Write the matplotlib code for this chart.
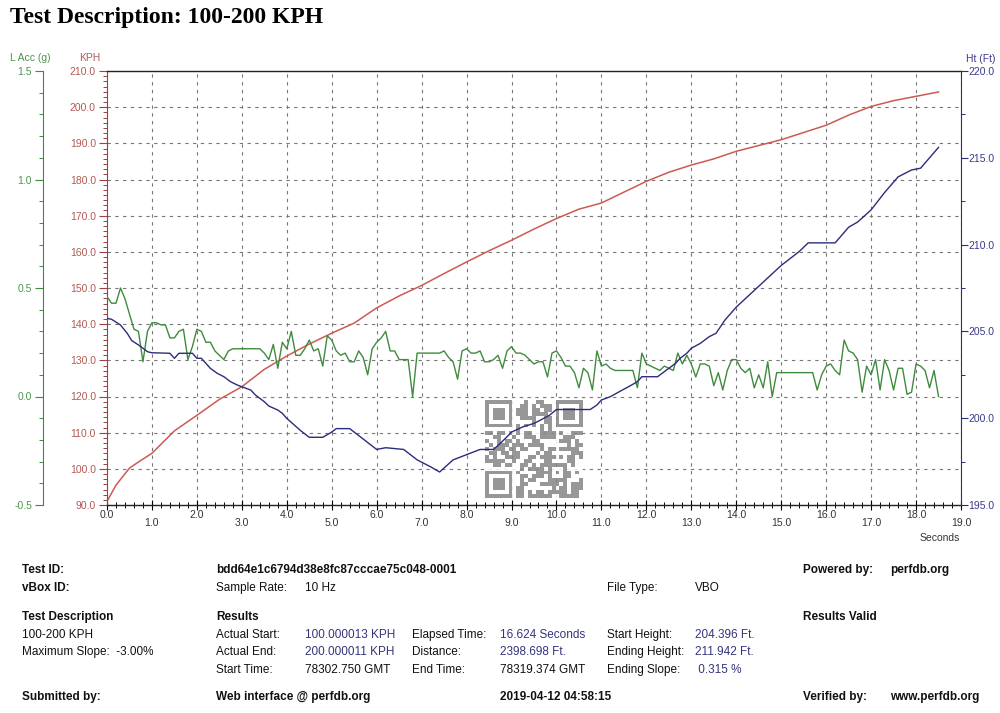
import numpy as np
import matplotlib.pyplot as plt
from matplotlib.ticker import MultipleLocator, AutoMinorLocator, FormatStrFormatter

plt.rcParams['font.family'] = ['Liberation Sans', 'DejaVu Sans']

# lateral acceleration (g), 10 Hz samples from 0.0 s
acc_g = [0.46, 0.43, 0.43, 0.50, 0.45, 0.38, 0.31, 0.30, 0.16, 0.30,
         0.34, 0.34, 0.33, 0.33, 0.27, 0.27, 0.30, 0.31, 0.17, 0.23,
         0.31, 0.30, 0.25, 0.25, 0.21, 0.19, 0.17, 0.21, 0.22, 0.22,
         0.22, 0.22, 0.22, 0.22, 0.22, 0.20, 0.17, 0.24, 0.13, 0.25,
         0.22, 0.30, 0.19, 0.19, 0.22, 0.26, 0.21, 0.22, 0.14, 0.28,
         0.26, 0.21, 0.19, 0.20, 0.16, 0.16, 0.21, 0.18, 0.10, 0.22,
         0.25, 0.27, 0.30, 0.21, 0.21, 0.17, 0.17, 0.17, 0.00, 0.20,
         0.20, 0.20, 0.20, 0.20, 0.20, 0.21, 0.18, 0.16, 0.08, 0.21,
         0.22, 0.20, 0.20, 0.21, 0.16, 0.16, 0.17, 0.19, 0.13, 0.21,
         0.23, 0.20, 0.20, 0.19, 0.17, 0.15, 0.16, 0.16, 0.09, 0.20,
         0.21, 0.18, 0.14, 0.14, 0.11, 0.04, 0.13, 0.11, 0.03, 0.21,
         0.14, 0.15, 0.13, 0.12, 0.12, 0.12, 0.12, 0.12, 0.04, 0.20,
         0.15, 0.14, 0.13, 0.12, 0.14, 0.13, 0.12, 0.20, 0.15, 0.19,
         0.15, 0.09, 0.15, 0.15, 0.14, 0.05, 0.11, 0.03, 0.12, 0.17,
         0.17, 0.13, 0.11, 0.13, 0.04, 0.10, 0.04, 0.16, 0.00, 0.11,
         0.11, 0.11, 0.11, 0.11, 0.11, 0.11, 0.11, 0.11, 0.03, 0.10,
         0.14, 0.15, 0.12, 0.10, 0.26, 0.21, 0.20, 0.17, 0.02, 0.14,
         0.10, 0.17, 0.03, 0.17, 0.12, 0.03, 0.13, 0.13, 0.01, 0.02,
         0.15, 0.14, 0.12, 0.04, 0.12, 0.00]
acc_t = np.arange(len(acc_g)) * 0.1

# speed (KPH)
kph_t = [0.0, 0.2, 0.5, 0.75, 1.0, 1.5, 2.0, 2.5, 3.0, 3.5, 4.0, 4.5, 5.0,
         5.5, 6.0, 6.5, 7.0, 7.5, 8.0, 8.5, 9.0, 9.5, 10.0, 10.5, 11.0,
         11.5, 12.0, 12.5, 13.0, 13.5, 14.0, 14.5, 15.0, 15.5, 16.0, 16.5,
         17.0, 17.5, 18.0, 18.5]
kph = [91.0, 95.5, 100.2, 102.3, 104.3, 110.5, 114.8, 119.2, 122.7, 127.5,
       131.2, 134.5, 137.5, 140.3, 144.5, 147.8, 150.7, 154.0, 157.2, 160.3,
       163.2, 166.3, 169.2, 171.8, 173.5, 176.5, 179.5, 182.0, 184.0, 185.7,
       187.8, 189.4, 191.0, 193.0, 195.0, 197.8, 200.2, 201.8, 203.0, 204.2]

# height (Ft)
ht_t = [0.0, 0.1, 0.3, 0.45, 0.55, 0.7, 0.8, 0.9, 1.0, 1.4, 1.5, 1.6, 1.9,
        2.0, 2.1, 2.2, 2.3, 2.45, 2.6, 2.75, 2.9, 3.0, 3.2, 3.3, 3.5, 3.6,
        3.8, 3.9, 4.0, 4.3, 4.5, 4.8, 5.0, 5.1, 5.4, 5.7, 6.0, 6.2, 6.6,
        6.9, 7.2, 7.4, 7.7, 8.0, 8.3, 8.6, 8.75, 8.9, 9.0, 9.25, 9.5, 9.65,
        9.85, 10.0, 10.75, 10.9, 11.0, 11.2, 11.4, 11.6, 11.8, 11.9, 12.25,
        12.45, 12.65, 12.75, 12.9, 13.0, 13.2, 13.4, 13.55, 13.75, 14.0,
        14.5, 15.0, 15.4, 15.6, 16.2, 16.5, 16.7, 17.0, 17.3, 17.6, 17.9,
        18.1, 18.3, 18.5]
ht_ft = [205.75, 205.7, 205.37, 204.89, 204.47, 204.22, 204.03, 203.83,
         203.77, 203.74, 203.45, 203.74, 203.74, 203.45, 203.45, 203.16,
         202.87, 202.59, 202.39, 202.1, 201.91, 201.81, 201.62, 201.34,
         200.95, 200.7, 200.47, 200.28, 199.99, 199.3, 198.9, 198.9, 199.2,
         199.4, 199.4, 198.8, 198.2, 198.3, 198.2, 197.6, 197.2, 196.9,
         197.6, 197.9, 198.2, 198.2, 198.55, 198.93, 199.2, 199.5, 199.7,
         199.9, 200.18, 200.5, 200.5, 200.76, 201.05, 201.24, 201.53, 201.81,
         202.1, 202.39, 202.39, 202.78, 203.16, 203.45, 203.74, 204.03,
         204.31, 204.7, 204.89, 205.66, 206.4, 207.6, 208.8, 209.6, 210.1,
         210.1, 211.0, 211.3, 212.0, 213.0, 213.9, 214.3, 214.4, 215.0, 215.6]

x_ticks = np.arange(0, 20)

RED = '#cc5a52'
GREEN = '#3e8b3e'
BLUE = '#2c2c7e'
VAL = '#34347c'

W, H = 1000, 713
fig = plt.figure(figsize=(W / 100, H / 100), dpi=100)
ax = fig.add_axes([107 / W, 1 - 505 / H, (961 - 107) / W, (505 - 71) / H])

# speed axis (main)
ax.plot(kph_t, kph, color=RED, lw=1.1)
ax.set_xlim(0, 19)
ax.set_ylim(90, 210)
ax.xaxis.set_major_locator(MultipleLocator(1))
ax.xaxis.set_minor_locator(MultipleLocator(0.2))
ax.yaxis.set_major_locator(MultipleLocator(10))
ax.yaxis.set_minor_locator(AutoMinorLocator(7))
ax.yaxis.set_major_formatter(FormatStrFormatter('%.1f'))
ax.tick_params(axis='x', which='major', direction='inout', length=7,
               labelbottom=False, width=0.8)
ax.tick_params(axis='x', which='minor', direction='inout', length=4, width=0.7)
ax.tick_params(axis='y', which='major', length=6, labelsize=7.5, pad=2,
               colors='#a04040', labelcolor='#b05a55', width=0.8)
ax.tick_params(axis='y', which='minor', length=3, colors='#a04040', width=0.7)
ax.grid(which='major', ls=(0, (3, 4)), color='#777777', lw=0.8)
ax.spines['left'].set_color('#a04040')
ax.spines['right'].set_visible(False)
for s in ['top', 'bottom']:
    ax.spines[s].set_color('#222222')
    ax.spines[s].set_linewidth(1.0)

for v in x_ticks:
    off = -0.012 if v % 2 == 0 else -0.03
    ax.text(v, off, f'{v:.1f}', transform=ax.get_xaxis_transform(),
            ha='center', va='top', fontsize=7.5, color='#333333')
fig.text(940 / W, 1 - 538 / H, 'Seconds', ha='center', va='center',
         fontsize=7.5, color='#333333')

# qr code watermark
n = 25
qr = np.random.default_rng(11).random((n, n)) < 0.5
for r, c in [(0, 0), (0, 18), (18, 0)]:
    qr[max(r - 1, 0):r + 8, max(c - 1, 0):c + 8] = False
    qr[r:r + 7, c:c + 7] = True
    qr[r + 1:r + 6, c + 1:c + 6] = False
    qr[r + 2:r + 5, c + 2:c + 5] = True
qr[16:21, 16:21] = True
qr[17:20, 17:20] = False
qr[18, 18] = True
qr[6, 8:17] = np.arange(8, 17) % 2 == 0
qr[8:17, 6] = np.arange(8, 17) % 2 == 0
qax = fig.add_axes([485 / W, 1 - 498 / H, 98 / W, 98 / H], zorder=0.5)
qax.imshow(np.where(qr, 0.52, 1.0), cmap='gray', vmin=0, vmax=1,
           alpha=0.85, interpolation='nearest')
qax.axis('off')

# acceleration axis (outer left)
ax_g = ax.twinx()
ax_g.set_zorder(1)
ax_g.plot(acc_t, acc_g, color=GREEN, lw=1.0)
ax_g.set_ylim(-0.5, 1.5)
ax_g.yaxis.tick_left()
ax_g.spines['left'].set_position(('outward', 46))
ax_g.spines['left'].set_visible(True)
ax_g.spines['left'].set_color(GREEN)
for s in ['right', 'top', 'bottom']:
    ax_g.spines[s].set_visible(False)
ax_g.yaxis.set_major_locator(MultipleLocator(0.5))
ax_g.yaxis.set_minor_locator(MultipleLocator(0.1))
ax_g.yaxis.set_major_formatter(FormatStrFormatter('%.1f'))
ax_g.tick_params(axis='y', which='major', length=6, labelsize=7.5, pad=2,
                 colors=GREEN, labelcolor='#4f944f', width=0.8)
ax_g.tick_params(axis='y', which='minor', length=3, colors=GREEN, width=0.7)

# height axis (right)
ax_h = ax.twinx()
ax_h.set_zorder(1)
ax_h.plot(ht_t, ht_ft, color=BLUE, lw=1.0)
ax_h.set_ylim(195, 220)
ax_h.yaxis.set_major_locator(MultipleLocator(5))
ax_h.yaxis.set_minor_locator(MultipleLocator(2.5))
ax_h.yaxis.set_major_formatter(FormatStrFormatter('%.1f'))
ax_h.spines['right'].set_color(BLUE)
for s in ['left', 'top', 'bottom']:
    ax_h.spines[s].set_visible(False)
ax_h.tick_params(axis='y', which='major', length=5, labelsize=7.5, pad=0.5,
                 colors=BLUE, labelcolor='#3a3a8a', width=0.8)
ax_h.tick_params(axis='y', which='minor', length=3, colors=BLUE, width=0.7)

fig.text(10 / W, 1 - 58 / H, 'L Acc (g)', fontsize=7.5, color='#4f944f',
         va='center')
fig.text(90 / W, 1 - 58 / H, 'KPH', fontsize=7.5, color='#b05a55',
         va='center', ha='center')
fig.text(966 / W, 1 - 59 / H, 'Ht (Ft)', fontsize=7.5, color='#3a3a8a',
         va='center')

fig.text(10 / W, 1 - 18 / H, 'Test Description: 100-200 KPH',
         family='Liberation Serif', weight='bold', fontsize=17, va='center')

# results table
def put(x, y, s, bold=False, color='#111111'):
    fig.text(x / W, 1 - y / H, s, fontsize=8.5, va='center', color=color,
             weight='bold' if bold else 'normal')

put(22, 570, 'Test ID:', True)
put(216, 570, 'bdd64e1c6794d38e8fc87cccae75c048-0001', True)
put(803, 570, 'Powered by:', True)
put(890, 570, 'perfdb.org', True)
put(22, 588, 'vBox ID:', True)
put(216, 588, 'Sample Rate:')
put(305, 588, '10 Hz')
put(607, 588, 'File Type:')
put(695, 588, 'VBO')
put(22, 617, 'Test Description', True)
put(216, 617, 'Results', True)
put(803, 617, 'Results Valid', True)
put(22, 635, '100-200 KPH')
put(22, 652, 'Maximum Slope:  -3.00%')
put(216, 635, 'Actual Start:')
put(305, 635, '100.000013 KPH', color=VAL)
put(412, 635, 'Elapsed Time:')
put(500, 635, '16.624 Seconds', color=VAL)
put(607, 635, 'Start Height:')
put(695, 635, '204.396 Ft.', color=VAL)
put(216, 652, 'Actual End:')
put(305, 652, '200.000011 KPH', color=VAL)
put(412, 652, 'Distance:')
put(500, 652, '2398.698 Ft.', color=VAL)
put(607, 652, 'Ending Height:')
put(695, 652, '211.942 Ft.', color=VAL)
put(216, 670, 'Start Time:')
put(305, 670, '78302.750 GMT')
put(412, 670, 'End Time:')
put(500, 670, '78319.374 GMT')
put(607, 670, 'Ending Slope:')
put(695, 670, ' 0.315 %', color=VAL)
put(22, 697, 'Submitted by:', True)
put(216, 697, 'Web interface @ perfdb.org', True)
put(500, 697, '2019-04-12 04:58:15', True)
put(803, 697, 'Verified by:', True)
put(890, 697, 'www.perfdb.org', True)

fig.savefig('out.png', dpi=100)
